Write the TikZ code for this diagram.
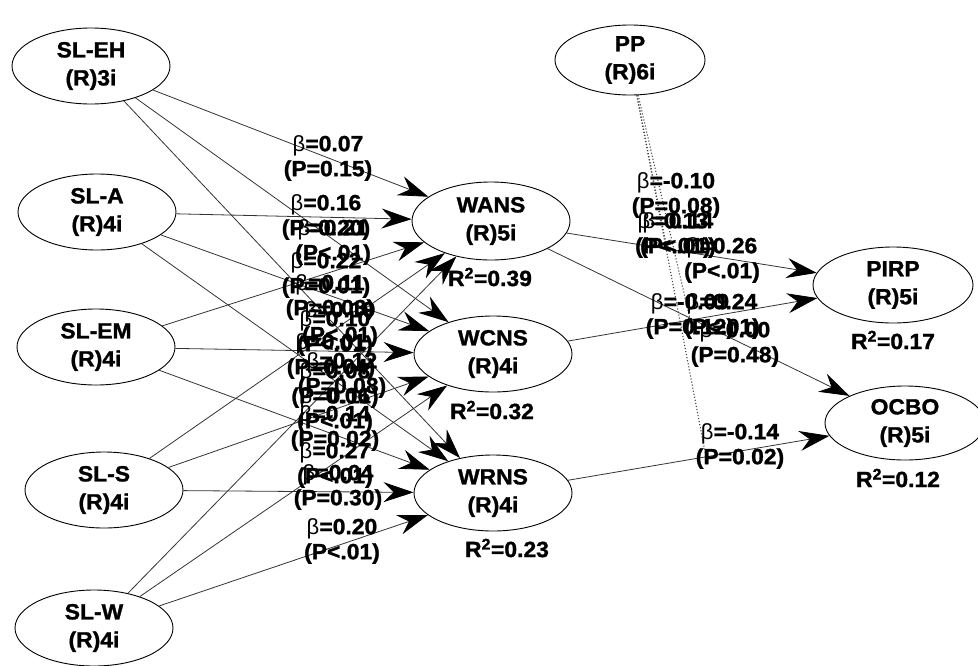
\documentclass[tikz,border=0pt]{standalone}
\usepackage{fontspec}
\setmainfont{Liberation Sans}[BoldFeatures={FakeBold=1.3,FakeStretch=1.04}]
\usetikzlibrary{shapes.geometric,arrows.meta}
\newcommand{\bt}{{\mdseries β}}
\begin{document}
\begin{tikzpicture}[x=1pt,y=-1pt,
  lv/.style={draw=black,line width=0.9pt,ellipse,inner sep=0pt,minimum width=158pt,minimum height=76pt,align=center,font=\fontsize{22}{28}\selectfont\bfseries},
  lab/.style={align=center,inner sep=0pt,font=\fontsize{22}{25}\selectfont\bfseries},
  rsq/.style={inner sep=0pt,font=\fontsize{22}{25}\selectfont\bfseries},
  conn/.style={draw=black!80,line width=0.8pt,-{Stealth[length=30pt,width=20pt,inset=10pt,color=black]}},
  modl/.style={draw=black!75,dotted,line width=1.1pt}]
\useasboundingbox (0,0) rectangle (978,665);
% latent variables
\node[lv] (EH) at (91,66) {SL-EH\\(R)3i};
\node[lv] (A) at (97,212) {SL-A\\(R)4i};
\node[lv] (EM) at (96,347) {SL-EM\\(R)4i};
\node[lv] (S) at (104,490) {SL-S\\(R)4i};
\node[lv] (W) at (94,628) {SL-W\\(R)4i};
\node[lv,minimum width=150pt,minimum height=70pt] (PP) at (630,60) {PP\\(R)6i};
\node[lv,minimum height=78pt] (WANS) at (491,221) {WANS\\(R)5i};
\node[lv] (WCNS) at (493,354) {WCNS\\(R)4i};
\node[lv] (WRNS) at (493,493) {WRNS\\(R)4i};
\node[lv,minimum width=160pt] (PIRP) at (893,285) {PIRP\\(R)5i};
\node[lv,minimum width=160pt,minimum height=74pt] (OCBO) at (905,423) {OCBO\\(R)5i};
% R squared
\node[rsq] (r1) at (490,277) {R\textsuperscript{2}=0.39};
\node[rsq] (r2) at (492,410) {R\textsuperscript{2}=0.32};
\node[rsq] (r3) at (507,548) {R\textsuperscript{2}=0.23};
\node[rsq] (r4) at (893,340) {R\textsuperscript{2}=0.17};
\node[rsq] (r5) at (898,478) {R\textsuperscript{2}=0.12};
% connectors
\foreach \s in {EH,A,EM,S,W}{
  \foreach \t in {WANS,WCNS,WRNS}{
    \draw[conn] (\s) -- (\t);
  }
}
\draw[conn] (WANS) -- (PIRP);
\draw[conn] (WCNS) -- (PIRP);
\draw[conn] (WANS) -- (OCBO);
\draw[conn] (WRNS) -- (OCBO);
% moderator
\coordinate (m1) at (667,249);
\coordinate (m2) at (690,319);
\coordinate (m3) at (706,457);
\draw[modl] (PP) -- (m1);
\draw[modl] (PP) -- (m2);
\draw[modl] (PP) -- (m3);
% path labels, left
\node[lab] (l1) at (328,158) {\bt=0.07\\(P=0.15)};
\node[lab] (l2) at (326,217) {\bt=0.16\\(P=0.20)};
\node[lab] (l3) at (333,242) {\bt=0.21\\(P<.01)};
\node[lab] (l4) at (326,275) {\bt=0.22\\(P=0.01)};
\node[lab] (l5) at (330,297) {\bt=0.11\\(P=0.03)};
\node[lab] (l6) at (340,324) {\bt=0.19\\(P<.01)};
\node[lab] (l7) at (335,333) {\bt=0.10\\(P<.01)};
\node[lab] (l8) at (331,356) {\bt=0.01\\(P=0.04)};
\node[lab] (l9) at (342,375) {\bt=0.12\\(P=0.08)};
\node[lab] (l10) at (335,385) {\bt=0.08\\(P=0.11)};
\node[lab] (l11) at (335,410) {\bt=0.06\\(P<.01)};
\node[lab] (l12) at (335,428) {\bt=0.14\\(P=0.02)};
\node[lab] (l13) at (335,465) {\bt=0.27\\(P<.01)};
\node[lab] (l14) at (338,487) {\bt=0.04\\(P=0.30)};
\node[lab] (l15) at (342,541) {\bt=0.20\\(P<.01)};
% path labels, right
\node[lab] (q1) at (676,195) {\bt=-0.10\\(P=0.08)};
\node[lab] (q2) at (673,235) {\bt=0.13\\(P<.01)};
\node[lab] (q3) at (678,235) {\bt=0.14\\(P<.01)};
\node[lab] (q4) at (722,260) {\bt=0.26\\(P<.01)};
\node[lab] (q5) at (690,316) {\bt=-0.09\\(P=0.12)};
\node[lab] (q6) at (722,316) {\bt=0.24\\(P<.01)};
\node[lab] (q7) at (735,344) {\bt=0.00\\(P=0.48)};
\node[lab] (q8) at (740,446) {\bt=-0.14\\(P=0.02)};
\end{tikzpicture}
\end{document}
